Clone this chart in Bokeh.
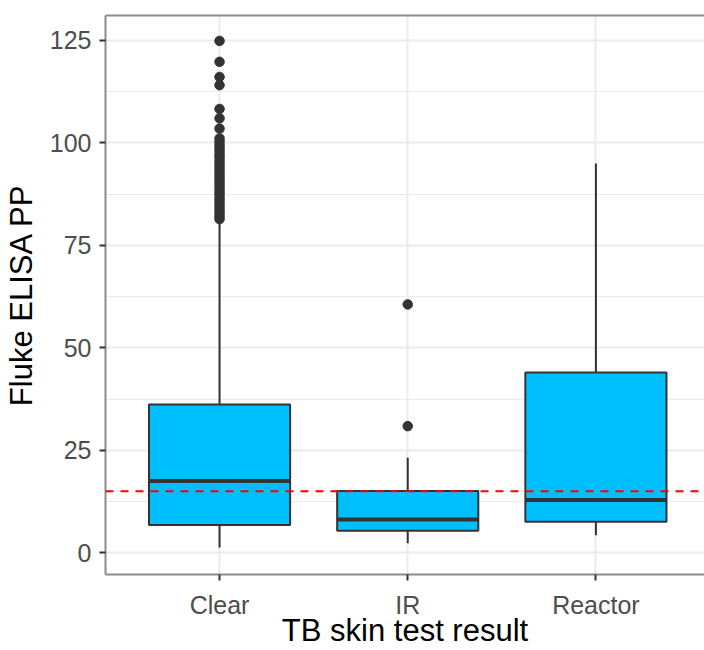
from bokeh.plotting import figure
from bokeh.models import Range1d, FixedTicker, LinearAxis, Span, ColumnDataSource
from bokeh.embed import file_html
from bokeh.resources import INLINE

# Summary statistics of Fluke ELISA PP by TB skin test result
categories = ["Clear", "IR", "Reactor"]
q1 = [6.8, 5.4, 7.6]
median = [17.5, 8.1, 12.9]
q3 = [36.2, 15.1, 44.0]
whisker_low = [1.3, 2.3, 4.3]
whisker_high = [80.2, 23.2, 95.0]

clear_outliers = [81.4, 82.1, 82.9, 83.6, 84.4, 85.1, 85.9, 86.6, 87.4, 88.1,
                  88.9, 89.6, 90.4, 91.2, 91.9, 92.7, 93.4, 94.2, 95.0, 95.7,
                  96.5, 97.2, 98.0, 98.8, 99.5, 100.3, 101.1, 103.5, 106.0,
                  108.3, 114.1, 116.1, 119.8, 124.9]
ir_outliers = [30.9, 60.6]
reactor_outliers = []
outliers = [clear_outliers, ir_outliers, reactor_outliers]

threshold = 15
y_ticks = [0, 25, 50, 75, 100, 125]
y_minor = [12.5, 37.5, 62.5, 87.5, 112.5]

FONT = "Liberation Sans"
FILL = "#00BFFF"
EDGE = "#333333"
GRID = "#EBEBEB"
BORDER = "#8C8C8C"
BOX_W = 0.75

xpos = [i + 1 for i in range(len(categories))]

p = figure(width=704, height=650, output_backend="svg", toolbar_location=None,
           x_range=Range1d(0.394, 3.577), y_range=Range1d(-5.3, 131.1),
           min_border_left=105, min_border_right=0, min_border_top=15,
           min_border_bottom=76, background_fill_color="white",
           border_fill_color="white")
p.outline_line_color = None

src = ColumnDataSource(dict(x=xpos, q1=q1, q3=q3, med=median,
                            lo=whisker_low, hi=whisker_high,
                            left=[x - BOX_W / 2 for x in xpos],
                            right=[x + BOX_W / 2 for x in xpos]))

# whiskers
p.segment(x0="x", y0="q3", x1="x", y1="hi", source=src, line_color=EDGE, line_width=2)
p.segment(x0="x", y0="q1", x1="x", y1="lo", source=src, line_color=EDGE, line_width=2)
# boxes
p.vbar(x="x", top="q3", bottom="q1", width=BOX_W, source=src,
       fill_color=FILL, line_color=EDGE, line_width=2)
# medians
p.segment(x0="left", y0="med", x1="right", y1="med", source=src,
          line_color=EDGE, line_width=4)

# outliers
ox, oy = [], []
for x, vals in zip(xpos, outliers):
    ox += [x] * len(vals)
    oy += vals
p.scatter(ox, oy, size=9.5, fill_color=EDGE, line_color=EDGE)

# reference threshold
p.add_layout(Span(location=threshold, dimension="width", line_color="red",
                  line_dash="8 7", line_width=2))

# axes
p.xaxis.ticker = FixedTicker(ticks=xpos)
p.xaxis.major_label_overrides = {x: c for x, c in zip(xpos, categories)}
p.yaxis.ticker = FixedTicker(ticks=y_ticks, minor_ticks=y_minor)

for ax in (p.xaxis[0], p.yaxis[0]):
    ax.axis_line_color = BORDER
    ax.axis_line_width = 2
    ax.major_tick_line_color = EDGE
    ax.major_tick_line_width = 2
    ax.major_tick_out = 6
    ax.major_tick_in = 0
    ax.minor_tick_line_color = None
    ax.major_label_text_font = FONT
    ax.major_label_text_font_size = "25px"
    ax.major_label_text_color = "#4D4D4D"
    ax.axis_label_text_font = FONT
    ax.axis_label_text_font_size = "31px"
    ax.axis_label_text_font_style = "normal"
    ax.axis_label_text_color = "black"

p.xaxis.axis_label = "TB skin test result"
p.yaxis.axis_label = "Fluke ELISA PP"
p.xaxis.major_label_standoff = 10
p.xaxis.axis_label_standoff = -9
p.yaxis.major_label_standoff = 8
p.yaxis.axis_label_standoff = 8

# top border line
top = LinearAxis(ticker=FixedTicker(ticks=[]), axis_line_color=BORDER,
                 axis_line_width=2, major_tick_line_color=None,
                 minor_tick_line_color=None, major_label_text_font_size="0px",
                 major_label_standoff=0, major_tick_out=0, major_tick_in=0)
p.add_layout(top, "above")

# grid
p.xgrid.grid_line_color = GRID
p.xgrid.grid_line_width = 2
p.ygrid.grid_line_color = GRID
p.ygrid.grid_line_width = 2
p.ygrid.minor_grid_line_color = GRID
p.ygrid.minor_grid_line_width = 1

open("out.html", "w").write(file_html(p, INLINE))
